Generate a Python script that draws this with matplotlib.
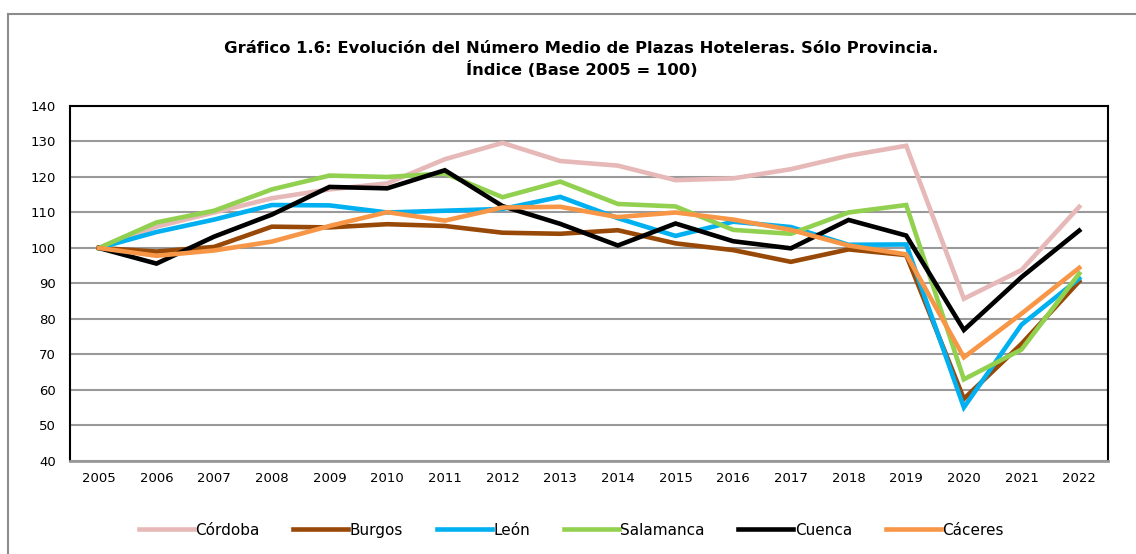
import matplotlib
matplotlib.use("Agg")
import matplotlib.pyplot as plt
from matplotlib.lines import Line2D
import numpy as np

years = [str(y) for y in range(2005, 2023)]

cordoba = [100, 106, 110, 114, 116.5, 118.2, 125, 129.6, 124.5, 123.2, 119.1, 119.6, 122.2, 126, 128.8, 85.7, 93.8, 111.6]
burgos = [100, 99, 100.3, 106, 105.8, 106.7, 106.2, 104.3, 104, 105, 101.3, 99.4, 96.1, 99.6, 98, 57.5, 73, 90.6]
leon = [100, 104.5, 108, 112.1, 112, 110, 110.5, 111, 114.4, 108.4, 103.4, 107.4, 105.9, 100.9, 101, 55.1, 78.4, 91.4]
salamanca = [100, 107.2, 110.5, 116.5, 120.4, 120, 121, 114.3, 118.7, 112.4, 111.7, 105.1, 104, 110, 112.1, 63, 71.4, 92.8]
cuenca = [100, 95.6, 103.2, 109.4, 117.2, 116.8, 121.9, 111.8, 106.8, 100.7, 106.9, 101.9, 99.9, 107.9, 103.5, 76.9, 91.8, 104.9]
caceres = [100, 97.8, 99.3, 101.8, 106.2, 110.1, 107.7, 111.4, 111.6, 108.7, 110, 108, 105.1, 100.7, 98.2, 69.2, 81.5, 94.4]

series = [
    ("Córdoba", cordoba, "#E6B9B8"),
    ("Burgos", burgos, "#984807"),
    ("León", leon, "#00B0F0"),
    ("Salamanca", salamanca, "#92D050"),
    ("Cuenca", cuenca, "#000000"),
    ("Cáceres", caceres, "#F79646"),
]

plt.rcParams['font.family'] = ['DejaVu Sans']

fig = plt.figure(figsize=(11.36, 5.54), dpi=100)
ax = fig.add_axes([0.0616, 0.1679, 0.9138, 0.6408])

x = np.arange(len(years))
for name, vals, col in series:
    ax.plot(x, vals, color=col, lw=3.3, label=name, solid_joinstyle="miter")

ax.set_xlim(-0.5, len(years) - 0.5)
ax.set_ylim(40, 140)
ax.set_yticks(range(40, 141, 10))
ax.set_xticks(x)
ax.set_xticklabels(years)
ax.tick_params(length=0, labelsize=9.5, pad=8)
ax.tick_params(axis="y", pad=10)
ax.yaxis.grid(True, color="#999999", lw=1.5)
ax.set_axisbelow(True)
for s in ["top", "left", "right"]:
    ax.spines[s].set_color("black")
    ax.spines[s].set_linewidth(1.5)
ax.spines["bottom"].set_color("#999999")
ax.spines["bottom"].set_linewidth(2)

fig.text(0.512, 0.893, "Gráfico 1.6: Evolución del Número Medio de Plazas Hoteleras. Sólo Provincia.\nÍndice (Base 2005 = 100)",
         ha="center", va="center", fontsize=11.8, fontweight="bold", linespacing=1.32)

fig.legend(loc="center", bbox_to_anchor=(0.503, 0.043), ncol=6, frameon=False,
           fontsize=11, handlelength=3.6, handletextpad=0.1, columnspacing=2.2)

# outer chart border
fig.add_artist(Line2D([8 / 1136, 1.01], [1 - 14 / 554, 1 - 14 / 554], transform=fig.transFigure, color="#8c8c8c", lw=1.5))
fig.add_artist(Line2D([8 / 1136, 8 / 1136], [-0.01, 1 - 14 / 554], transform=fig.transFigure, color="#8c8c8c", lw=1.5))

fig.savefig("out.png", dpi=100)
